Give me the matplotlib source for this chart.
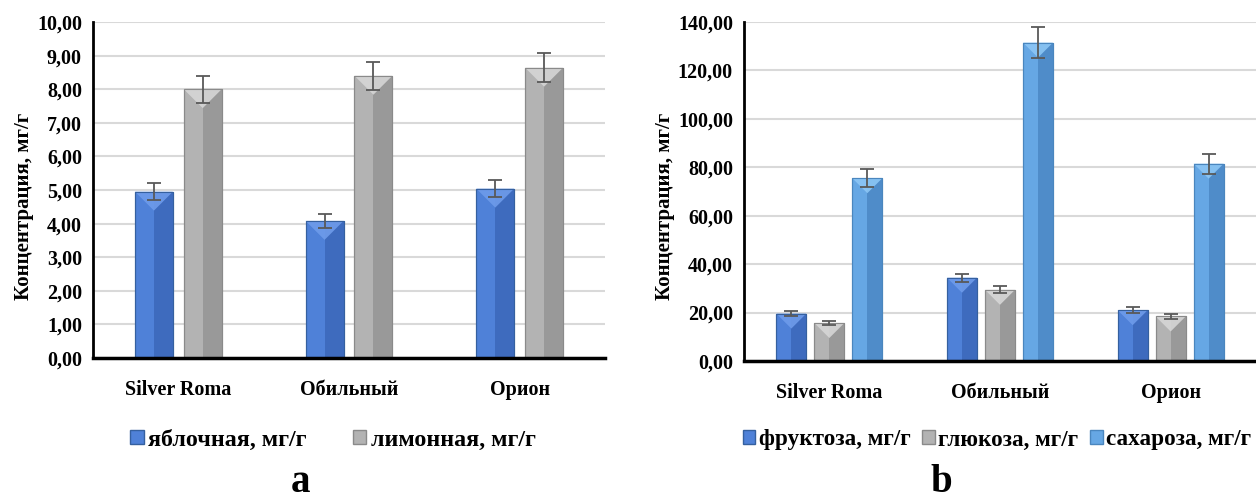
import matplotlib
matplotlib.use("Agg")
import matplotlib.pyplot as plt
import numpy as np
from matplotlib.patches import Patch, Polygon

plt.rcParams['font.family'] = ['Liberation Serif', 'DejaVu Serif']
plt.rcParams['font.weight'] = 'bold'

# ---------------- data ----------------
varieties = ["Silver Roma", "Обильный", "Орион"]

acid_names = ["яблочная, мг/г", "лимонная, мг/г"]
malic = [4.95, 4.08, 5.04]
malic_err = [0.25, 0.21, 0.26]
citric = [8.00, 8.40, 8.64]
citric_err = [0.40, 0.42, 0.44]
acid_ticks = [0, 1, 2, 3, 4, 5, 6, 7, 8, 9, 10]

sugar_names = ["фруктоза, мг/г", "глюкоза, мг/г", "сахароза, мг/г"]
fructose = [19.6, 34.4, 21.0]
fructose_err = [1.0, 1.7, 1.3]
glucose = [15.7, 29.4, 18.4]
glucose_err = [0.9, 1.4, 1.0]
sucrose = [75.5, 131.5, 81.5]
sucrose_err = [3.8, 6.5, 4.1]
sugar_ticks = [0, 20, 40, 60, 80, 100, 120, 140]

# ---------------- style ----------------
W, H = 1256, 499
# (light half, dark half, edge, top bevel)
C_BLUE = ("#4F81D8", "#3E6BBE", "#35609F", "#6E9BEA")
C_GRAY = ("#B3B3B3", "#999999", "#8A8A8A", "#D6D6D6")
C_LBLUE = ("#66A7E4", "#4F8CC9", "#4A86BE", "#8CC6F5")
ERR_C = "#595959"

fig = plt.figure(figsize=(W / 100, H / 100), dpi=100)


def px_axes(x0, y0, x1, y1):
    return fig.add_axes([x0 / W, 1 - y1 / H, (x1 - x0) / W, (y1 - y0) / H])


def draw_bars(ax, x, vals, errs, width, cols, px_per_x, px_per_y):
    light, dark, edge, top = cols
    ax.bar(x, vals, width=width, color=light, edgecolor=edge, linewidth=0.8, zorder=3)
    ax.bar(x + width / 4, vals, width=width / 2, color=dark, linewidth=0, zorder=3.1)
    # bevel triangle at the top of each bar (depth = half bar width in pixels)
    depth = (width / 2) * px_per_x / px_per_y
    for xi, v in zip(x, vals):
        tri = Polygon([(xi - width / 2, v), (xi + width / 2, v), (xi, v - depth)],
                      closed=True, facecolor=top, edgecolor="none", zorder=3.15, alpha=0.9)
        ax.add_patch(tri)
    ax.bar(x, vals, width=width, color="none", edgecolor=edge, linewidth=0.8, zorder=3.2)
    ax.errorbar(x, vals, yerr=errs, fmt="none", ecolor=ERR_C, elinewidth=1.3,
                capsize=5, capthick=1.3, zorder=4)


def style_axes(ax, ticks, label_y):
    ax.set_xlim(-0.5, 2.5)
    ax.set_ylim(ticks[0], ticks[-1])
    ax.set_yticks(ticks)
    ax.set_yticklabels([f"{t:.2f}".replace(".", ",") for t in ticks],
                       fontsize=14.5, fontweight="bold")
    ax.set_xticks(range(len(varieties)))
    ax.set_xticklabels(varieties, fontsize=14.5, fontweight="bold")
    ax.tick_params(axis="both", length=0, pad=8)
    ax.tick_params(axis="x", pad=16)
    ax.yaxis.grid(True, color="#D9D9D9", linewidth=1.5, zorder=0)
    ax.set_axisbelow(True)
    for s in ["top", "right"]:
        ax.spines[s].set_visible(False)
    ax.spines["left"].set_linewidth(2)
    ax.spines["bottom"].set_linewidth(2.5)
    ax.spines["left"].set_zorder(5)
    ax.spines["bottom"].set_zorder(5)
    ax.set_ylabel("Концентрация, мг/г", fontsize=15, fontweight="bold", labelpad=2)
    ax.yaxis.label.set_y(label_y)


x = np.arange(len(varieties))

# ---------------- chart a ----------------
ax_px_a = (93, 22, 605, 358)
axa = px_axes(*ax_px_a)
ppx_a = (ax_px_a[2] - ax_px_a[0]) / 3.0
ppy_a = (ax_px_a[3] - ax_px_a[1]) / (acid_ticks[-1] - acid_ticks[0])
wa = 0.222
oa = 0.143
draw_bars(axa, x - oa, malic, malic_err, wa, C_BLUE, ppx_a, ppy_a)
draw_bars(axa, x + oa, citric, citric_err, wa, C_GRAY, ppx_a, ppy_a)
style_axes(axa, acid_ticks, 0.45)
handles_a = [Patch(facecolor=C_BLUE[0], edgecolor=C_BLUE[2]),
             Patch(facecolor=C_GRAY[0], edgecolor=C_GRAY[2])]
fig.legend(handles_a, acid_names, loc="center", bbox_to_anchor=(333 / W, 1 - 440 / H),
           ncol=2, frameon=False, prop={"size": 17.3, "weight": "bold"},
           handlelength=0.55, handleheight=0.55, handletextpad=0.2, columnspacing=1.9)
fig.text(300 / W, 1 - 482 / H, "a", ha="center", va="center", fontsize=28,
         fontweight="bold")

# ---------------- chart b ----------------
ax_px_b = (744, 22, 1256, 361)
axb = px_axes(*ax_px_b)
ppx_b = (ax_px_b[2] - ax_px_b[0]) / 3.0
ppy_b = (ax_px_b[3] - ax_px_b[1]) / (sugar_ticks[-1] - sugar_ticks[0])
wb = 0.176
ob = 0.2226
draw_bars(axb, x - ob, fructose, fructose_err, wb, C_BLUE, ppx_b, ppy_b)
draw_bars(axb, x, glucose, glucose_err, wb, C_GRAY, ppx_b, ppy_b)
draw_bars(axb, x + ob, sucrose, sucrose_err, wb, C_LBLUE, ppx_b, ppy_b)
style_axes(axb, sugar_ticks, 0.455)
handles_b = [Patch(facecolor=C_BLUE[0], edgecolor=C_BLUE[2]),
             Patch(facecolor=C_GRAY[0], edgecolor=C_GRAY[2]),
             Patch(facecolor=C_LBLUE[0], edgecolor=C_LBLUE[2])]
fig.legend(handles_b, sugar_names, loc="center", bbox_to_anchor=(997 / W, 1 - 440 / H),
           ncol=3, frameon=False, prop={"size": 16.7, "weight": "bold"},
           handlelength=0.55, handleheight=0.55, handletextpad=0.15, columnspacing=0.5)
fig.text(941 / W, 1 - 482 / H, "b", ha="center", va="center", fontsize=28,
         fontweight="bold")

fig.savefig("out.png", dpi=100)
